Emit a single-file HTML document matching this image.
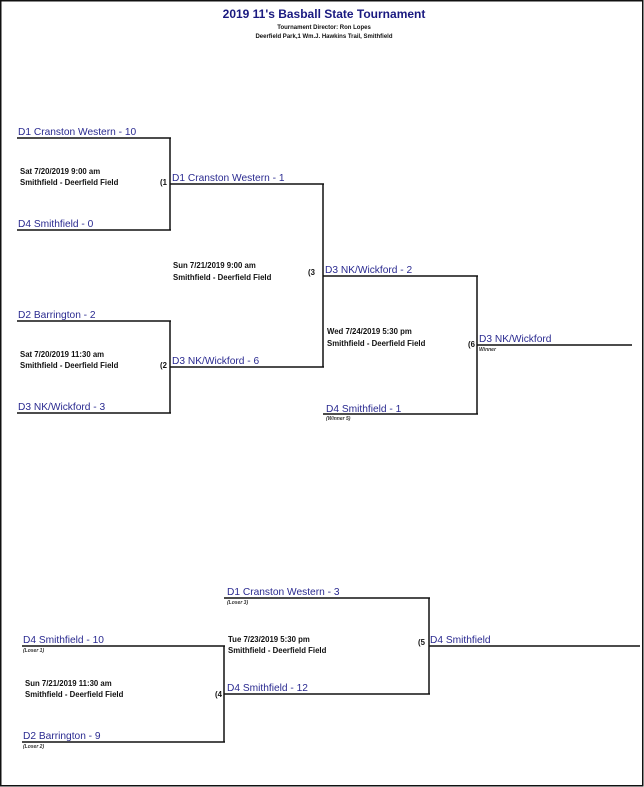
<!DOCTYPE html>
<html><head><meta charset="utf-8"><style>
html,body{margin:0;padding:0;background:#fff;}
svg{display:block;}
.t{font-family:"Liberation Sans",sans-serif;font-size:10.2px;fill:#2a2a90;}
.i{font-family:"Liberation Sans",sans-serif;font-size:7.8px;font-weight:bold;fill:#111;}
.s{font-family:"Liberation Sans",sans-serif;font-size:5px;font-style:italic;font-weight:bold;fill:#333;}
line{stroke:#111;stroke-width:1.5;}
</style></head><body>
<svg width="644" height="787" xmlns="http://www.w3.org/2000/svg">
<rect x="0.75" y="0.75" width="642" height="785" fill="#fff" stroke="#111" stroke-width="1.5"/>
<text x="324" y="18" text-anchor="middle" font-family="Liberation Sans, sans-serif" font-size="12" font-weight="bold" fill="#1a1a80">2019 11's Basball State Tournament</text>
<text x="324" y="29" text-anchor="middle" font-family="Liberation Sans, sans-serif" font-size="6" font-weight="bold" fill="#111">Tournament Director: Ron Lopes</text>
<text x="324" y="38" text-anchor="middle" font-family="Liberation Sans, sans-serif" font-size="6" font-weight="bold" fill="#111">Deerfield Park,1 Wm.J. Hawkins Trail, Smithfield</text>

<line x1="17" y1="138" x2="171" y2="138"/><line x1="170" y1="138" x2="170" y2="230"/><line x1="17" y1="230" x2="171" y2="230"/>
<text class="t" x="18" y="135">D1 Cranston Western - 10</text>
<text class="t" x="18" y="227">D4 Smithfield - 0</text>
<text class="i" x="20" y="174">Sat 7/20/2019 9:00 am</text>
<text class="i" x="20" y="185">Smithfield - Deerfield Field</text>
<text class="i" x="160" y="185" font-size="6">(1</text>

<line x1="17" y1="321" x2="171" y2="321"/><line x1="170" y1="321" x2="170" y2="413"/><line x1="17" y1="413" x2="171" y2="413"/>
<text class="t" x="18" y="318">D2 Barrington - 2</text>
<text class="t" x="18" y="410">D3 NK/Wickford - 3</text>
<text class="i" x="20" y="357">Sat 7/20/2019 11:30 am</text>
<text class="i" x="20" y="368">Smithfield - Deerfield Field</text>
<text class="i" x="160" y="368" font-size="6">(2</text>

<line x1="170" y1="184" x2="324" y2="184"/><line x1="323" y1="184" x2="323" y2="367"/><line x1="170" y1="367" x2="324" y2="367"/>
<text class="t" x="172" y="181">D1 Cranston Western - 1</text>
<text class="t" x="172" y="364">D3 NK/Wickford - 6</text>
<text class="i" x="173" y="268">Sun 7/21/2019 9:00 am</text>
<text class="i" x="173" y="280">Smithfield - Deerfield Field</text>
<text class="i" x="308" y="275" font-size="6">(3</text>

<line x1="323" y1="276" x2="478" y2="276"/><line x1="477" y1="276" x2="477" y2="414"/><line x1="323" y1="414" x2="478" y2="414"/>
<text class="t" x="325" y="273">D3 NK/Wickford - 2</text>
<text class="t" x="326" y="412">D4 Smithfield - 1</text>
<text class="s" x="326" y="420">(Winner 5)</text>
<text class="i" x="327" y="334">Wed 7/24/2019 5:30 pm</text>
<text class="i" x="327" y="346">Smithfield - Deerfield Field</text>
<text class="i" x="468" y="347" font-size="6">(6</text>
<line x1="477" y1="345" x2="632" y2="345"/>
<text class="t" x="479" y="342">D3 NK/Wickford</text>
<text class="s" x="479" y="351">Winner</text>

<line x1="22" y1="646" x2="225" y2="646"/><line x1="224" y1="646" x2="224" y2="742"/><line x1="22" y1="742" x2="225" y2="742"/>
<text class="t" x="23" y="643">D4 Smithfield - 10</text>
<text class="s" x="23" y="652">(Loser 1)</text>
<text class="t" x="23" y="739">D2 Barrington - 9</text>
<text class="s" x="23" y="748">(Loser 2)</text>
<text class="i" x="25" y="686">Sun 7/21/2019 11:30 am</text>
<text class="i" x="25" y="697">Smithfield - Deerfield Field</text>
<text class="i" x="215" y="697" font-size="6">(4</text>

<line x1="224" y1="598" x2="430" y2="598"/><line x1="429" y1="598" x2="429" y2="694"/><line x1="224" y1="694" x2="430" y2="694"/>
<text class="t" x="227" y="595">D1 Cranston Western - 3</text>
<text class="s" x="227" y="604">(Loser 3)</text>
<text class="t" x="227" y="691">D4 Smithfield - 12</text>
<text class="i" x="228" y="642">Tue 7/23/2019 5:30 pm</text>
<text class="i" x="228" y="653">Smithfield - Deerfield Field</text>
<text class="i" x="418" y="645" font-size="6">(5</text>
<line x1="429" y1="646" x2="640" y2="646"/>
<text class="t" x="430" y="643">D4 Smithfield</text>
</svg>
</body></html>
